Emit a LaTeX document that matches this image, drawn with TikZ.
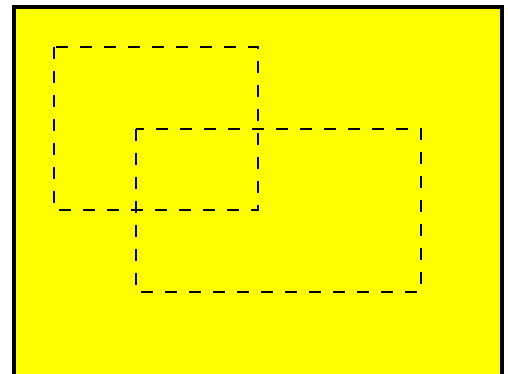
\documentclass[tikz,border=0pt]{standalone}
\definecolor{pureyellow}{RGB}{255,255,0}
\begin{document}
\begin{tikzpicture}[x=1pt,y=-1pt,
  frame/.style={draw=black,line width=4pt,fill=pureyellow},
  dashbox/.style={draw=black,line width=2pt,dash pattern=on 12pt off 12pt}]
\useasboundingbox (0,0) rectangle (508,374);
\clip (0,0) rectangle (508,374);
\draw[frame] (14,7) rectangle (502,380);
\draw[dashbox] (54,47) rectangle (258,210);
\draw[dashbox] (136,129) rectangle (421,292);
\end{tikzpicture}
\end{document}
